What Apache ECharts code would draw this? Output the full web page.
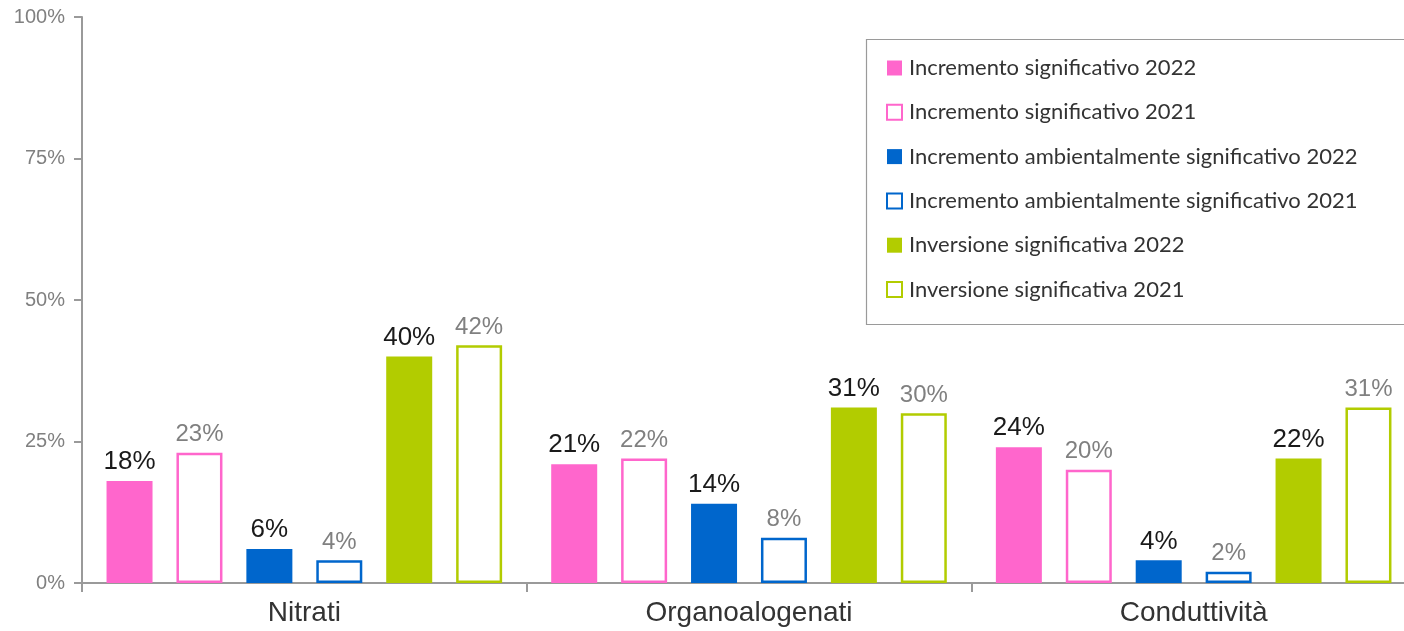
<!DOCTYPE html>
<html>
<head>
<meta charset="utf-8">
<script src="https://cdn.jsdelivr.net/npm/echarts@6/dist/echarts.min.js"></script>
<style>
html,body{margin:0;padding:0;background:#fff;}
#chart{width:1404px;height:631px;}
</style>
</head>
<body>
<div id="chart"></div>
<script>
const categories = ['Nitrati', 'Organoalogenati', 'Conduttività'];
const seriesNames = [
  'Incremento significativo 2022',
  'Incremento significativo 2021',
  'Incremento ambientalmente significativo 2022',
  'Incremento ambientalmente significativo 2021',
  'Inversione significativa 2022',
  'Inversione significativa 2021'
];
const incSig2022 = [18, 21, 24];
const incSig2021 = [23, 22, 20];
const incAmb2022 = [6, 14, 4];
const incAmb2021 = [4, 8, 2];
const inv2022 = [40, 31, 22];
const inv2021 = [42, 30, 31];
const yTicks = [0, 25, 50, 75, 100];

const values = [incSig2022, incSig2021, incAmb2022, incAmb2021, inv2022, inv2021];
const colors = ['#ff66cc', '#ff66cc', '#0066cc', '#0066cc', '#b2cc00', '#b2cc00'];
const filled = [true, false, true, false, true, false];

const series = values.map((vals, i) => ({
  name: seriesNames[i],
  type: 'bar',
  data: vals,
  barWidth: 46,
  barGap: '52%',
  itemStyle: filled[i]
    ? { color: colors[i] }
    : { color: '#ffffff', borderColor: colors[i], borderWidth: 2.5 },
  label: {
    show: true,
    position: 'top',
    distance: 6,
    formatter: '{c}%',
    fontFamily: 'Liberation Sans',
    fontSize: filled[i] ? 26 : 24,
    color: filled[i] ? '#1a1a1a' : '#808080'
  }
}));

const chart = echarts.init(document.getElementById('chart'), null, { renderer: 'canvas' });
chart.setOption({
  animation: false,
  backgroundColor: '#ffffff',
  grid: { left: 82, width: 1334, top: 17, bottom: 48, containLabel: false, outerBoundsMode: 'none' },
  graphic: [{
    type: 'rect',
    left: 864, top: 37,
    shape: { width: 560, height: 285 },
    style: { fill: 'none', stroke: '#9a9a9a', lineWidth: 1.2 },
    z: 0
  }],
  legend: {
    orient: 'vertical',
    left: 886, top: 57,
    icon: 'rect',
    itemWidth: 15, itemHeight: 15,
    itemGap: 22.3,
    padding: 0,
    textStyle: { fontFamily: 'Lato', fontSize: 22, lineHeight: 22, color: '#333333', padding: [0, 0, 0, 2] },
    data: seriesNames
  },
  xAxis: {
    type: 'category',
    data: categories,
    axisLine: { lineStyle: { color: '#9a9a9a', width: 2 } },
    axisTick: { show: true, length: 9, lineStyle: { color: '#9a9a9a', width: 2 } },
    axisLabel: { fontFamily: 'Liberation Sans', fontSize: 28, color: '#333333', margin: 16 }
  },
  yAxis: {
    type: 'value',
    min: yTicks[0], max: yTicks[yTicks.length - 1], interval: 25,
    axisLine: { show: true, lineStyle: { color: '#9a9a9a', width: 2 } },
    axisTick: { show: true, length: 8, lineStyle: { color: '#9a9a9a', width: 2 } },
    splitLine: { show: false },
    axisLabel: { formatter: '{value}%', fontFamily: 'Liberation Sans', fontSize: 20, color: '#808080', margin: 17 }
  },
  series: series
});
</script>
</body>
</html>
